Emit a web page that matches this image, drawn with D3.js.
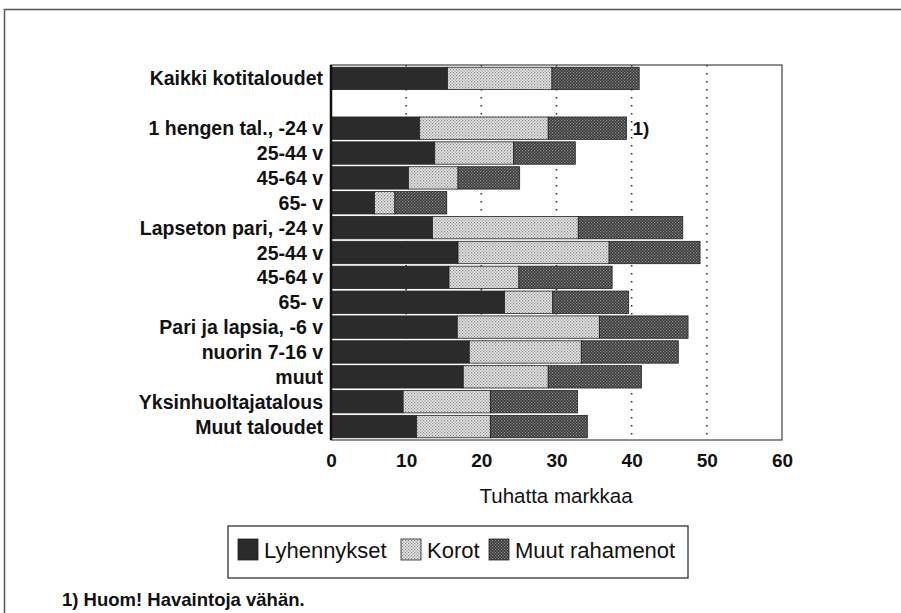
<!DOCTYPE html>
<html><head><meta charset="utf-8">
<script src="https://cdn.jsdelivr.net/npm/d3@7"></script>
<style>
body{margin:0;background:#fff;}
svg{display:block;}
</style></head>
<body>
<svg id="chart" width="901" height="613"></svg>
<script>
const categories = ["Kaikki kotitaloudet","", "1 hengen tal., -24 v","25-44 v","45-64 v","65- v",
  "Lapseton pari, -24 v","25-44 v ","45-64 v ","65- v ","Pari ja lapsia, -6 v","nuorin 7-16 v","muut",
  "Yksinhuoltajatalous","Muut taloudet"];
const lyhennykset = [15.5,null,11.8,13.8,10.3,5.8,13.5,16.9,15.7,23.1,16.8,18.4,17.6,9.6,11.4];
const korot       = [13.9,null,17.1,10.5,6.6,2.7,19.4,20.1,9.3,6.4,18.9,14.9,11.3,11.6,9.8];
const muutMenot   = [11.6,null,10.4,8.2,8.2,6.9,13.9,12.1,12.4,10.1,11.8,12.9,12.4,11.6,12.9];
const seriesNames = ["Lyhennykset","Korot","Muut rahamenot"];
const xTicks = [0,10,20,30,40,50,60];
const gridTicks = [10,20,30,40,50];
const axisTitle = "Tuhatta markkaa";
const footnote = "1) Huom! Havaintoja vähän.";
const noteMark = "1)";
const noteIndex = 2;

(function(){
const FONT = "Liberation Sans, Arial, Helvetica, sans-serif";
const svg = d3.select("#chart");
const defs = svg.append("defs");
function dotPattern(id, bg, dot){
  const p = defs.append("pattern").attr("id",id).attr("patternUnits","userSpaceOnUse")
    .attr("width",3).attr("height",3);
  p.append("rect").attr("width",3).attr("height",3).attr("fill",bg);
  p.append("rect").attr("x",0).attr("y",0).attr("width",1.2).attr("height",1.2).attr("fill",dot);
  p.append("rect").attr("x",1.5).attr("y",1.5).attr("width",1.2).attr("height",1.2).attr("fill",dot);
}
dotPattern("pKorot","#e6e6e6","#8a8a8a");
dotPattern("pMuut","#3a3a3a","#8c8c8c");
const fills = ["#2b2b2b","url(#pKorot)","url(#pMuut)"];

// outer frame
svg.append("path").attr("d","M4.5,613 V9.5 H901").attr("fill","none").attr("stroke","#555").attr("stroke-width",1.5);

const pL=331, pR=782, pT=65, pB=440;
const x = d3.scaleLinear().domain([0,60]).range([pL,pR]);
const y = d3.scaleBand().domain(d3.range(categories.length)).range([pT+1,pB-1]).paddingInner(0.1).paddingOuter(0.05);

// gridlines
svg.append("g").selectAll("line").data(gridTicks).join("line")
  .attr("x1",d=>x(d)).attr("x2",d=>x(d)).attr("y1",pT).attr("y2",pB)
  .attr("stroke","#333").attr("stroke-width",1.6).attr("stroke-dasharray","1.6,6.4");

// stacked bars
const rows = categories.map((c,i)=>({i, vals:[lyhennykset[i],korot[i],muutMenot[i]]})).filter(r=>r.vals[0]!==null);
const stacked = d3.stack().keys([0,1,2]).value((d,k)=>d.vals[k])(rows);
stacked.forEach((layer,k)=>{
  svg.append("g").selectAll("rect").data(layer).join("rect")
    .attr("x",d=>x(d[0])).attr("width",d=>x(d[1])-x(d[0]))
    .attr("y",d=>y(d.data.i)).attr("height",y.bandwidth())
    .attr("fill",fills[k]).attr("stroke","#222").attr("stroke-width",0.8);
});

// plot frame
svg.append("rect").attr("x",pL).attr("y",pT).attr("width",pR-pL).attr("height",pB-pT)
  .attr("fill","none").attr("stroke","#444").attr("stroke-width",1.2);
svg.append("line").attr("x1",pL).attr("x2",pL).attr("y1",pT).attr("y2",pB).attr("stroke","#111").attr("stroke-width",2.5);

// category labels
svg.append("g").selectAll("text").data(categories).join("text")
  .attr("x",pL-8).attr("y",(d,i)=>y(i)+y.bandwidth()/2).attr("dy","0.36em")
  .attr("text-anchor","end").attr("font-family",FONT)
  .attr("font-weight","bold").attr("font-size",19.5).attr("fill","#111").text(d=>d.trim());

// x axis labels
const xAxis = d3.axisBottom(x).tickValues(xTicks).tickSize(0).tickPadding(0);
const gx = svg.append("g").attr("transform",`translate(0,${pB+27})`).call(xAxis);
gx.select(".domain").remove();
gx.selectAll("text").attr("font-family",FONT).attr("font-weight","bold")
  .attr("font-size",19).attr("fill","#111").attr("dy","0");

svg.append("text").attr("x",556).attr("y",503).attr("text-anchor","middle")
  .attr("font-family",FONT).attr("font-size",20.5).attr("fill","#111").text(axisTitle);

// note mark
const ni = rows.find(r=>r.i===noteIndex);
svg.append("text").attr("x",x(d3.sum(ni.vals))+6).attr("y",y(noteIndex)+y.bandwidth()/2).attr("dy","0.36em")
  .attr("font-family",FONT).attr("font-weight","bold").attr("font-size",19).attr("fill","#111").text(noteMark);

// legend
const lg = svg.append("g");
lg.append("rect").attr("x",228).attr("y",526).attr("width",460).attr("height",52)
  .attr("fill","none").attr("stroke","#333").attr("stroke-width",1.3);
const legX=[238,401,489];
seriesNames.forEach((n,k)=>{
  lg.append("rect").attr("x",legX[k]).attr("y",539).attr("width",20).attr("height",21)
    .attr("fill",fills[k]).attr("stroke","#222").attr("stroke-width",0.8);
  lg.append("text").attr("x",legX[k]+26).attr("y",558).attr("font-family",FONT)
    .attr("font-size",22).attr("fill","#111").text(n);
});

svg.append("text").attr("x",62).attr("y",606).attr("font-family",FONT)
  .attr("font-weight","bold").attr("font-size",18.5).attr("fill","#111").text(footnote);
})();
</script>
</body></html>
